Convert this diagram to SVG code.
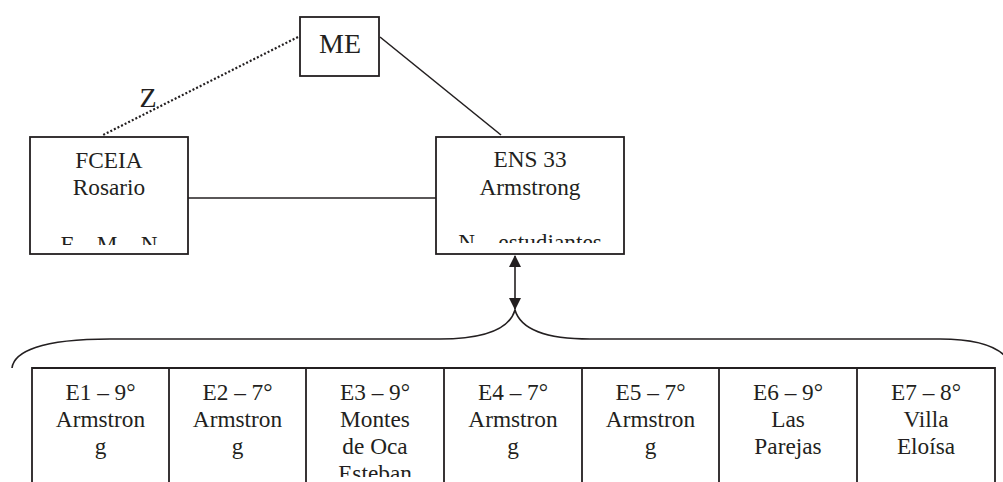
<svg xmlns="http://www.w3.org/2000/svg" width="1003" height="482" viewBox="0 0 1003 482">
<style>
.box{fill:#fff;stroke:#231f20;stroke-width:1.8}
.ln{fill:none;stroke:#231f20;stroke-width:1.6}
.dot{fill:none;stroke:#231f20;stroke-width:2.2;stroke-dasharray:2 2}
.t{font-family:'Liberation Serif','Times New Roman','DejaVu Serif',serif;font-size:23.3px;fill:#231f20;text-anchor:middle}
.big{font-size:28px}
</style>
<defs>
<marker id="ah" viewBox="0 0 12 12" refX="11" refY="6" markerWidth="12" markerHeight="12" markerUnits="userSpaceOnUse" orient="auto-start-reverse">
<path d="M0 0 L12 6 L0 12 Z" fill="#231f20"/>
</marker>
<clipPath id="cf"><rect x="30" y="137" width="158" height="108"/></clipPath>
<clipPath id="ce"><rect x="436" y="137" width="188" height="106"/></clipPath>
<clipPath id="ct"><rect x="32" y="368" width="963" height="109"/></clipPath>
</defs>
<rect width="1003" height="482" fill="#fff"/>
<g id="connectors">
<path class="dot" d="M298 37 L103 135"/>
<path class="ln" d="M380 37 L501 135"/>
<path class="ln" d="M188 198 L436 198"/>
<path class="ln" d="M515 256 L515 309" marker-start="url(#ah)" marker-end="url(#ah)"/>
<path class="ln" d="M12 368 C14 352 40 339 110 339 L440 339 C490 339 510 327 515 310 C520 327 540 339 590 339 L940 339 C975 339 995 346 1005 356"/>
<text class="t big" font-family="Liberation Serif, serif" x="148" y="107">Z</text>
</g>
<g id="node-me">
<rect class="box" x="300" y="17" width="79" height="59"/>
<text class="t big" x="340" y="53">ME</text>
</g>
<g id="node-fceia">
<rect class="box" x="30" y="137" width="158" height="117"/>
<g clip-path="url(#cf)">
<text class="t" x="109" y="168">FCEIA</text>
<text class="t" x="109" y="195">Rosario</text>
<text class="t" x="109" y="252">F – M – N</text>
</g>
</g>
<g id="node-ens">
<rect class="box" x="436" y="137" width="188" height="117"/>
<g clip-path="url(#ce)">
<text class="t" x="530" y="167">ENS 33</text>
<text class="t" x="530" y="195">Armstrong</text>
<text class="t" x="530" y="250">N – estudiantes</text>
</g>
</g>
<g id="table">
<path class="ln" d="M32 482 L32 368 L995 368 L995 482 M169 368 L169 482 M306 368 L306 482 M444 368 L444 482 M582 368 L582 482 M719 368 L719 482 M857 368 L857 482" style="stroke-width:1.8"/>
<g clip-path="url(#ct)">
<g id="node-e1"><text class="t" x="100.5" y="400">E1 – 9°</text><text class="t" x="100.5" y="427">Armstron</text><text class="t" x="100.5" y="454">g</text></g>
<g id="node-e2"><text class="t" x="237.5" y="400">E2 – 7°</text><text class="t" x="237.5" y="427">Armstron</text><text class="t" x="237.5" y="454">g</text></g>
<g id="node-e3"><text class="t" x="375" y="400">E3 – 9°</text><text class="t" x="375" y="427">Montes</text><text class="t" x="375" y="454">de Oca</text><text class="t" x="375" y="481">Esteban</text></g>
<g id="node-e4"><text class="t" x="513" y="400">E4 – 7°</text><text class="t" x="513" y="427">Armstron</text><text class="t" x="513" y="454">g</text></g>
<g id="node-e5"><text class="t" x="650.5" y="400">E5 – 7°</text><text class="t" x="650.5" y="427">Armstron</text><text class="t" x="650.5" y="454">g</text></g>
<g id="node-e6"><text class="t" x="788" y="400">E6 – 9°</text><text class="t" x="788" y="427">Las</text><text class="t" x="788" y="454">Parejas</text></g>
<g id="node-e7"><text class="t" x="926" y="400">E7 – 8°</text><text class="t" x="926" y="427">Villa</text><text class="t" x="926" y="454">Eloísa</text></g>
</g>
</g>
</svg>
